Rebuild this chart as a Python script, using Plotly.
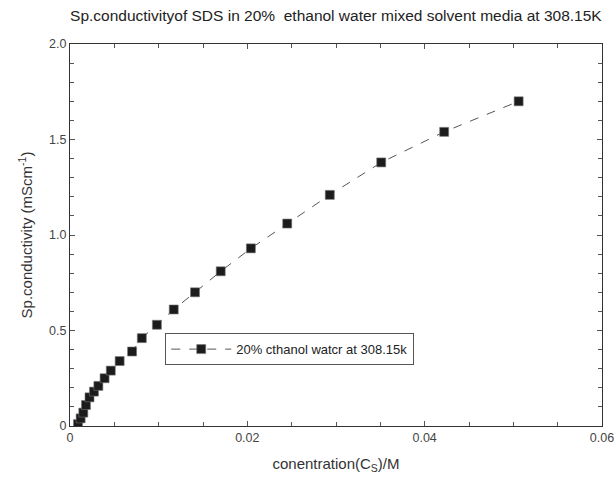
import plotly.graph_objects as go

conc = [0.0009, 0.0012, 0.0015, 0.0018, 0.0022, 0.0027, 0.0032, 0.0039, 0.0046, 0.0056,
        0.0070, 0.0081, 0.0098, 0.0117, 0.0141, 0.0170, 0.0204, 0.0245, 0.0293, 0.0351,
        0.0422, 0.0506]
cond = [0.01, 0.04, 0.07, 0.11, 0.15, 0.18, 0.21, 0.25, 0.29, 0.34,
        0.39, 0.46, 0.53, 0.61, 0.70, 0.81, 0.93, 1.06, 1.21, 1.38,
        1.54, 1.70]

x_tickvals = [0, 0.02, 0.04, 0.06]
x_ticktext = ["0", "0.02", "0.04", "0.06"]
y_tickvals = [0, 0.5, 1.0, 1.5, 2.0]
y_ticktext = ["0", "0.5", "1.0", "1.5", "2.0"]

fig = go.Figure()
fig.add_trace(go.Scatter(
    x=conc, y=cond, mode="lines+markers",
    name="20% cthanol watcr at 308.15k",
    line=dict(color="#555555", width=1, dash="dash"),
    marker=dict(symbol="square", size=9, color="#1c1c1c",
                line=dict(color="#777777", width=0.6)),
))

font_family = "Liberation Sans, Arial, sans-serif"
axis_common = dict(
    showgrid=False, zeroline=False, showline=True, linecolor="#333333", linewidth=1,
    mirror="ticks", ticks="inside", ticklen=5, tickcolor="#555555", tickwidth=1,
    ticklabeloverflow="allow", automargin=False,
    tickfont=dict(size=12.5, color="#444444", family=font_family),
)

fig.update_layout(
    width=614, height=481,
    margin=dict(l=69.5, r=12, t=44, b=55),
    paper_bgcolor="white", plot_bgcolor="white",
    font=dict(family=font_family, color="#333333"),
    title=dict(text="Sp.conductivityof SDS in 20%  ethanol water mixed solvent media at 308.15K",
               x=0.547, xanchor="center", y=0.968, yanchor="middle",
               font=dict(size=15.5, color="#222222")),
    xaxis=dict(range=[0, 0.06], tickvals=x_tickvals, ticktext=x_ticktext,
               minor=dict(dtick=0.005, ticks="inside", ticklen=4, tickcolor="#555555"),
               title=dict(text="conentration(C<sub>S</sub>)/M", standoff=14,
                          font=dict(size=15, color="#333333")),
               **axis_common),
    yaxis=dict(range=[0, 2.0], tickvals=y_tickvals, ticktext=y_ticktext,
               minor=dict(dtick=0.1, ticks="inside", ticklen=4, tickcolor="#555555"),
               title=dict(text="Sp.conductivity (mScm<sup>-1</sup>)", standoff=12,
                          font=dict(size=15, color="#333333")),
               **axis_common),
    showlegend=True,
    legend=dict(x=0.179, y=0.243, xanchor="left", yanchor="top",
                bordercolor="#555555", borderwidth=1, bgcolor="white",
                itemwidth=60,
                font=dict(size=13, color="#222222", family=font_family)),
)

fig.write_html("out.html", config={"displayModeBar": False},
               post_script="document.body.style.margin='0';")
